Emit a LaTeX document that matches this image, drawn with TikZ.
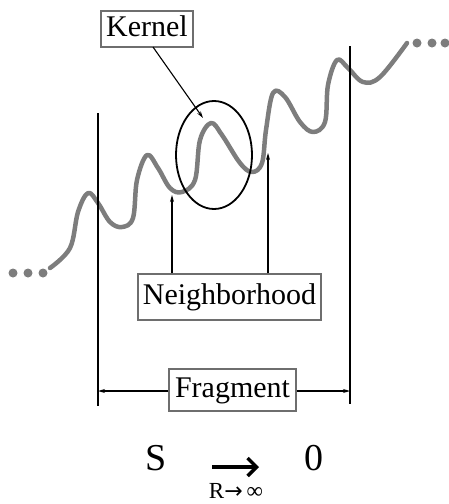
\documentclass[tikz,border=0pt]{standalone}
\usepackage{fontspec}
\setmainfont{Liberation Serif}
\newfontfamily\arrowfont{DejaVu Sans}
\usetikzlibrary{arrows.meta,shapes.geometric}
\definecolor{wavegray}{RGB}{125,125,125}
\definecolor{boxgray}{RGB}{110,110,110}
\tikzset{
  lbl/.style={draw=boxgray,line width=1.2pt,fill=white,inner sep=0pt,font=\fontsize{30}{34}\selectfont,text height=21pt,text depth=7pt},
  vline/.style={line width=1.5pt},
  thinarrow/.style={line width=1.1pt,-{Stealth[length=7pt,width=4pt]}},
  wave/.style={wavegray,line width=4.5pt,line cap=round,line join=round},
  dot/.style={circle,fill=wavegray,inner sep=0pt,minimum size=9pt}
}
\begin{document}
\begin{tikzpicture}[x=1pt,y=-1pt]
\useasboundingbox (0,0) rectangle (449,504);
% wave
\draw[wave] plot[smooth,tension=0.6] coordinates {
 (50,268) (70,248) (78,212) (88,193) (98,203) (110,222) (122,227) (133,218) (137,180) (147,155) (158,168) (170,188) (182,192) (195,180) (200,140) (211,123) (222,135) (240,163) (252,172) (262,163) (266,130) (273,93) (285,97) (300,122) (313,132) (325,122) (328,85) (337,60) (348,68) (363,82) (380,77) (407,43)};
% dots
\node[dot] (dl1) at (13,273) {};
\node[dot] (dl2) at (28,273) {};
\node[dot] (dl3) at (43,273) {};
\node[dot] (dr1) at (417,43) {};
\node[dot] (dr2) at (432,43) {};
\node[dot] (dr3) at (445,43) {};
% vertical lines
\coordinate (ltop) at (98,113);
\coordinate (lbot) at (98,406);
\coordinate (rtop) at (350,46);
\coordinate (rbot) at (350,404);
\draw[vline] (ltop) -- (lbot);
\draw[vline] (rtop) -- (rbot);
% kernel ellipse
\node[ellipse,draw,line width=1.8pt,minimum width=76pt,minimum height=108pt,inner sep=0pt] (kern) at (214,155) {};
\node[lbl,minimum width=92pt,minimum height=36pt] (kbox) at (147,29) {Kernel};
\coordinate (ktip) at (203,118);
\draw[thinarrow] (153,47) -- (ktip);
% neighborhood
\node[lbl,minimum width=183pt,minimum height=46pt] (nbox) at (229.5,297) {Neighborhood};
\coordinate (ntipA) at (172,195);
\coordinate (ntipB) at (268,153);
\draw[thinarrow] (nbox.north -| ntipA) -- (ntipA);
\draw[thinarrow] (nbox.north -| ntipB) -- (ntipB);
% fragment
\node[lbl,minimum width=127pt,minimum height=42pt] (fbox) at (232.5,390) {Fragment};
\coordinate (fl) at (98,391);
\coordinate (fr) at (350,391);
\draw[thinarrow] (fbox.west |- fl) -- (fl);
\draw[thinarrow] (fbox.east |- fr) -- (fr);
% limit
\node[font=\fontsize{38}{42}\selectfont,inner sep=0pt] (S) at (156,458) {S};
\node[font=\fontsize{38}{42}\selectfont,inner sep=0pt] (Z) at (314,458) {0};
\coordinate (la) at (212,467);
\coordinate (lb) at (259,467);
\draw[line width=3.5pt,-{Straight Barb[length=9pt,width=18pt,line width=3.5pt]}] (la) -- (lb);
\node[font=\fontsize{23}{26}\selectfont,inner sep=0pt] (Rlim) at (236,491) {R{\arrowfont\fontsize{22}{24}\selectfont →}\,∞};
\end{tikzpicture}
\end{document}
